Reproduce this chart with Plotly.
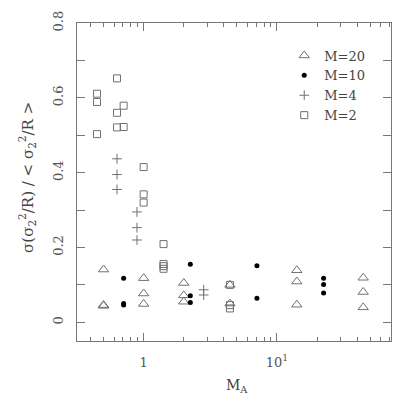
import plotly.graph_objects as go

# M=20 (open triangles)
m20_x = [0.50, 0.50, 0.50, 1.0, 1.0, 1.0, 2.0, 2.0, 2.0, 4.44, 4.44, 14.1, 14.1, 14.1, 44.4, 44.4, 44.4]
m20_y = [0.141, 0.046, 0.044, 0.118, 0.077, 0.049, 0.105, 0.072, 0.055, 0.100, 0.050, 0.139, 0.109, 0.047, 0.119, 0.081, 0.040]

# M=10 (filled dots)
m10_x = [0.708, 0.708, 0.708, 2.24, 2.24, 2.24, 7.08, 7.08, 22.4, 22.4, 22.4]
m10_y = [0.118, 0.050, 0.046, 0.155, 0.071, 0.053, 0.151, 0.064, 0.118, 0.101, 0.078]

# M=4 (plus signs)
m4_x = [0.631, 0.631, 0.631, 0.891, 0.891, 0.891, 2.82, 2.82]
m4_y = [0.437, 0.395, 0.355, 0.295, 0.253, 0.220, 0.087, 0.073]

# M=2 (open squares)
m2_x = [0.447, 0.447, 0.447, 0.631, 0.631, 0.631, 0.708, 0.708, 1.0, 1.0, 1.0,
        1.41, 1.41, 1.41, 1.41, 4.44, 4.44, 4.44]
m2_y = [0.611, 0.589, 0.503, 0.652, 0.560, 0.521, 0.579, 0.522, 0.415, 0.342, 0.320,
        0.209, 0.156, 0.150, 0.143, 0.100, 0.046, 0.037]

serif = "DejaVu Serif"
grey = "#707070"

fig = go.Figure()
fig.add_trace(go.Scatter(x=m20_x, y=m20_y, mode="markers", name="M=20",
                         marker=dict(symbol="triangle-up-open", size=9, color=grey, line=dict(width=1))))
fig.add_trace(go.Scatter(x=m10_x, y=m10_y, mode="markers", name="M=10",
                         marker=dict(symbol="circle", size=5, color="black")))
fig.add_trace(go.Scatter(x=m4_x, y=m4_y, mode="markers", name="M=4",
                         marker=dict(symbol="cross-thin-open", size=7, color=grey, line=dict(width=1, color=grey))))
fig.add_trace(go.Scatter(x=m2_x, y=m2_y, mode="markers", name="M=2",
                         marker=dict(symbol="square-open", size=7, color=grey, line=dict(width=1))))

axis_style = dict(showline=True, linecolor="#777", linewidth=1, mirror="allticks",
                  ticks="inside", ticklen=8, tickcolor="#777", showgrid=False, zeroline=False,
                  tickfont=dict(family=serif, size=13, color="#555"))

fig.update_xaxes(type="log", range=[-0.5, 1.856], tickvals=[1, 10], ticktext=["1", "10<sup>1</sup>"],
                 minor=dict(ticks="inside", ticklen=4, tickcolor="#777",
                            tickvals=[0.4, 0.5, 0.6, 0.7, 0.8, 0.9, 2, 3, 4, 5, 6, 7, 8, 9, 20, 30, 40, 50, 60, 70]),
                 ticklabelstandoff=9, **axis_style)
fig.update_yaxes(range=[-0.05, 0.8], tickvals=[0, 0.2, 0.4, 0.6, 0.8], ticktext=["0", "0.2", "0.4", "0.6", "0.8"],
                 tickangle=-90, minor=dict(ticks="inside", ticklen=8, tickcolor="#777", dtick=0.1),
                 ticklabelstandoff=8, **axis_style)

fig.add_annotation(text="σ(σ<sub>2</sub><sup>2</sup>/R) / &lt; σ<sub>2</sub><sup>2</sup>/R &gt;",
                   xref="paper", yref="paper", x=-0.2, y=0.515, textangle=-90, showarrow=False,
                   font=dict(family=serif, size=15, color="#444"))
fig.add_annotation(text="M<sub>A</sub>", xref="paper", yref="paper", x=0.51, y=-0.175,
                   showarrow=False, font=dict(family=serif, size=14, color="#444"))

fig.update_layout(
    width=403, height=403,
    margin=dict(l=77, r=11, t=20, b=62),
    plot_bgcolor="white", paper_bgcolor="white",
    showlegend=True,
    legend=dict(x=0.66, y=0.945, xanchor="left", yanchor="top", bgcolor="rgba(0,0,0,0)",
                font=dict(family=serif, size=13, color="#444"), itemwidth=30, tracegroupgap=0),
)

fig.write_html("out.html", config={"displayModeBar": False},
               post_script="document.body.style.margin='0';")
